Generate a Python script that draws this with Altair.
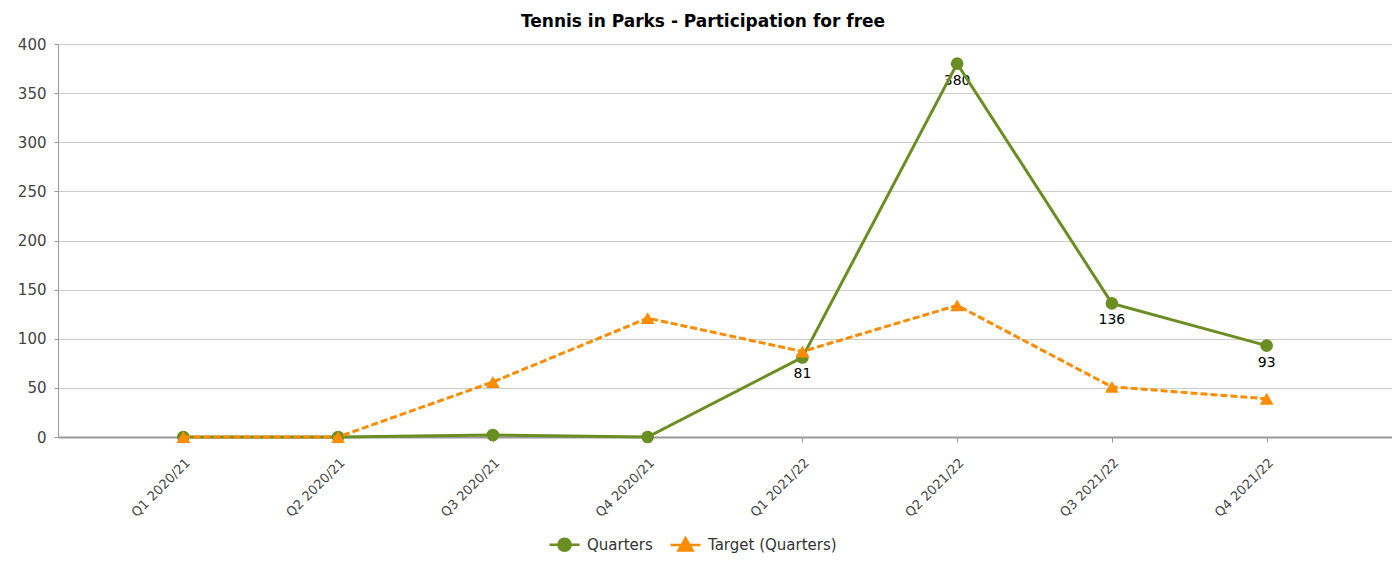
import altair as alt
import pandas as pd

quarters = ["Q1 2020/21", "Q2 2020/21", "Q3 2020/21", "Q4 2020/21",
            "Q1 2021/22", "Q2 2021/22", "Q3 2021/22", "Q4 2021/22"]
actual = [0, 0, 2, 0, 81, 380, 136, 93]
target = [0, 0, 56, 121, 87, 134, 51, 39]
actual_labels = ["", "", "", "", "81", "380", "136", "93"]
series = ["Quarters", "Target (Quarters)"]
colors = ["#6B8E23", "#FF8C00"]

rows = []
for q, a, t, lab in zip(quarters, actual, target, actual_labels):
    rows.append({"quarter": q, "series": series[0], "value": a, "label": lab})
    rows.append({"quarter": q, "series": series[1], "value": t, "label": ""})
df = pd.DataFrame(rows)

FONT = "DejaVu Sans"

x = alt.X("quarter:N", sort=quarters,
          scale=alt.Scale(type="point", padding=0.81),
          axis=alt.Axis(title=None, labelAngle=-45, labelFontSize=13, labelColor="#444444",
                        labelFont=FONT, grid=False, domainColor="#999999", domainWidth=2,
                        tickColor="#999999", tickSize=5, labelPadding=14))
y = alt.Y("value:Q", scale=alt.Scale(domain=[0, 400], nice=False),
          axis=alt.Axis(title=None, values=list(range(0, 401, 50)), labelFontSize=15,
                        labelColor="#444444", labelFont=FONT, grid=True, gridColor="#cccccc",
                        domainColor="#999999", domainWidth=1, tickColor="#999999", tickSize=4,
                        labelPadding=8))

circle_leg = "M-1,0L-0.4,0M0.4,0L1,0M-0.4,0A0.4,0.4,0,1,1,0.4,0A0.4,0.4,0,1,1,-0.4,0Z"
tri_leg = "M-1,0L1,0M0,-0.45L0.47,0.37L-0.47,0.37Z"

leg = alt.Legend(title=None, orient="none", direction="horizontal",
                 legendX=490, legendY=484,
                 labelFontSize=15, labelFont=FONT, labelColor="#333333",
                 columnPadding=12, labelOffset=6, symbolSize=900, symbolStrokeWidth=2.5)

color = alt.Color("series:N", scale=alt.Scale(domain=series, range=colors), legend=leg)

base = alt.Chart(df)

labels_layer = base.transform_filter(alt.datum.label != "").mark_text(
    font=FONT, fontSize=14, color="#000000", dy=17, baseline="middle"
).encode(x=x, y=y, text="label:N")

line_a = base.transform_filter(alt.datum.series == series[0]).mark_line(strokeWidth=3).encode(
    x=x, y=y, color=color)
pts_a = base.transform_filter(alt.datum.series == series[0]).mark_point(
    filled=True, opacity=1, shape="circle", size=160).encode(x=x, y=y, color=color)
line_t = base.transform_filter(alt.datum.series == series[1]).mark_line(
    strokeWidth=3, strokeDash=[7, 3]).encode(x=x, y=y, color=color)
pts_t = base.transform_filter(alt.datum.series == series[1]).mark_point(
    filled=True, opacity=1, shape="triangle-up", size=190).encode(x=x, y=y, color=color)

legend_layer = base.transform_filter("false").mark_point(filled=True, opacity=1, size=900).encode(
    x=x, y=y,
    color=color,
    shape=alt.Shape("series:N", scale=alt.Scale(domain=series, range=[circle_leg, tri_leg]),
                    legend=leg),
)

chart = alt.layer(labels_layer, line_a, pts_a, line_t, pts_t, legend_layer).properties(
    width=1334, height=393,
    title=alt.TitleParams("Tennis in Parks - Participation for free", font=FONT, fontSize=17,
                          fontWeight="bold", color="#000000", anchor="middle", offset=6, dx=-22),
    autosize=alt.AutoSizeParams(type="none"),
    padding={"left": 50, "top": 36, "right": 0, "bottom": 121},
).configure_view(stroke=None).configure(background="white")

chart.save("out.html", embed_options={"renderer": "svg", "actions": False})
